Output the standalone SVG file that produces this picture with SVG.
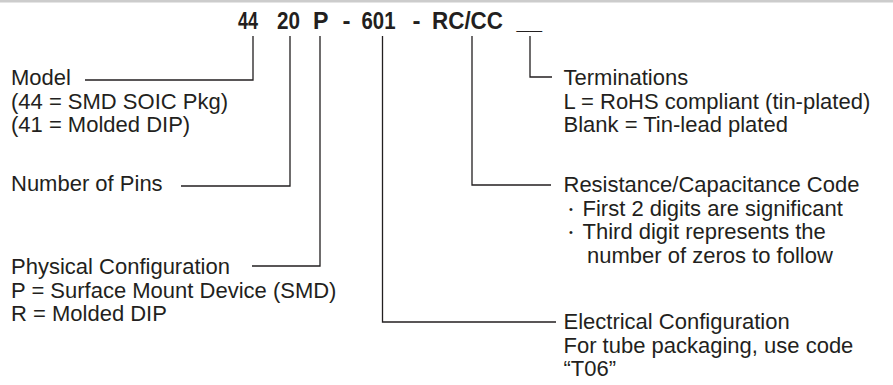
<svg xmlns="http://www.w3.org/2000/svg" width="893" height="385" viewBox="0 0 893 385">
<style>
.t{font-family:"Liberation Sans",Arial,Helvetica,sans-serif;font-size:22px;fill:#231f20}
.h{font-family:"Liberation Sans",Arial,Helvetica,sans-serif;font-size:23px;font-weight:bold;fill:#231f20}
.b{font-size:11px}
.c{fill:none;stroke:#231f20;stroke-width:1.3}
</style>
<rect x="0" y="0" width="893" height="2.5" fill="#cccccc"/>
<g id="partnumber">
<text class="h" x="238" y="29" textLength="20" lengthAdjust="spacingAndGlyphs">44</text>
<text class="h" x="277" y="29" textLength="23" lengthAdjust="spacingAndGlyphs">20</text>
<text class="h" x="313" y="29" textLength="15.5" lengthAdjust="spacingAndGlyphs">P</text>
<text class="h" x="342.5" y="29" textLength="8" lengthAdjust="spacingAndGlyphs">-</text>
<text class="h" x="361.5" y="29" textLength="34" lengthAdjust="spacingAndGlyphs">601</text>
<text class="h" x="412.5" y="29" textLength="8" lengthAdjust="spacingAndGlyphs">-</text>
<text class="h" x="432" y="29" textLength="71" lengthAdjust="spacingAndGlyphs">RC/CC</text>
<text class="h" x="516.5" y="29" textLength="25.5" lengthAdjust="spacingAndGlyphs">__</text>
</g>
<g id="connectors">
<polyline class="c" points="253,36 253,80 85,80"/>
<polyline class="c" points="290,36 290,186 181,186"/>
<polyline class="c" points="320,36 320,266 252,266"/>
<polyline class="c" points="382.5,36 382.5,322 556,322"/>
<polyline class="c" points="472,36 472,185 551,185"/>
<polyline class="c" points="530,36 530,77 552,77"/>
</g>
<g id="model">
<text class="t" x="11" y="85">Model</text>
<text class="t" x="11" y="108.5">(44 = SMD SOIC Pkg)</text>
<text class="t" x="11" y="132">(41 = Molded DIP)</text>
</g>
<g id="pins">
<text class="t" x="11" y="191">Number of Pins</text>
</g>
<g id="physical">
<text class="t" x="11" y="274">Physical Configuration</text>
<text class="t" x="11" y="297.5">P = Surface Mount Device (SMD)</text>
<text class="t" x="11" y="321">R = Molded DIP</text>
</g>
<g id="terminations">
<text class="t" x="563.5" y="85">Terminations</text>
<text class="t" x="563.5" y="108.5">L = RoHS compliant (tin-plated)</text>
<text class="t" x="563.5" y="132">Blank = Tin-lead plated</text>
</g>
<g id="rccode">
<text class="t" x="563.5" y="192">Resistance/Capacitance Code</text>
<text class="t" y="215.5"><tspan class="b" x="569" dy="-3">•</tspan><tspan x="582.5" dy="3">First 2 digits are significant</tspan></text>
<text class="t" y="239"><tspan class="b" x="569" dy="-3">•</tspan><tspan x="582.5" dy="3">Third digit represents the</tspan></text>
<text class="t" x="587" y="262.5">number of zeros to follow</text>
</g>
<g id="electrical">
<text class="t" x="563.5" y="329">Electrical Configuration</text>
<text class="t" x="563.5" y="352.5">For tube packaging, use code</text>
<text class="t" x="563.5" y="376">“T06”</text>
</g>
</svg>
